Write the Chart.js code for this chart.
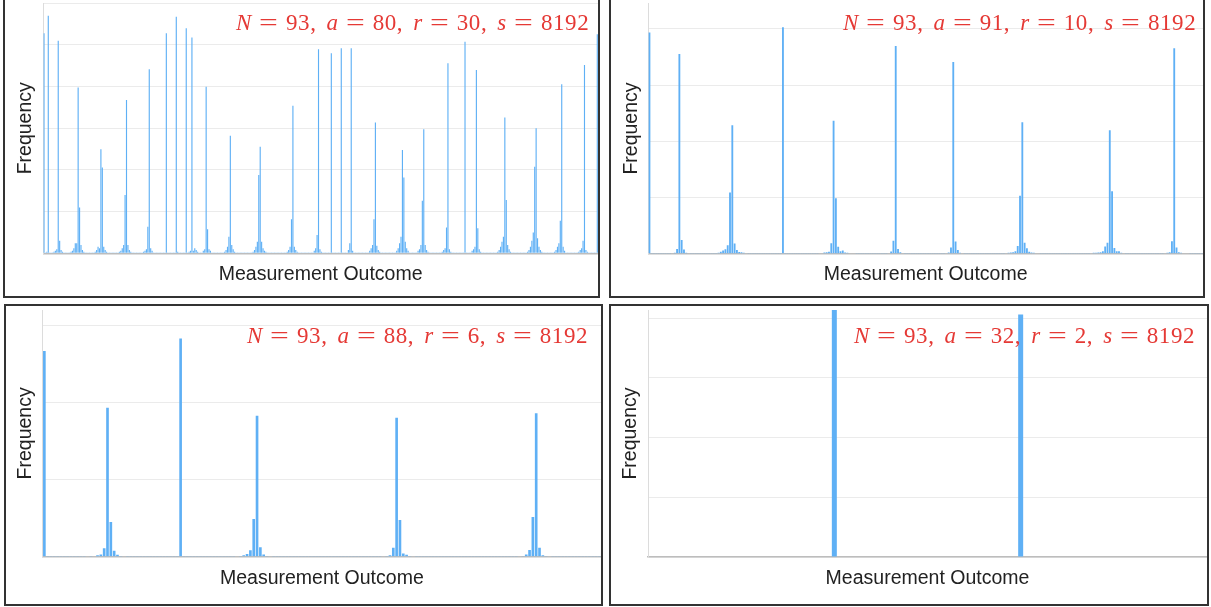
<!DOCTYPE html>
<html><head><meta charset="utf-8">
<script src="https://cdn.jsdelivr.net/npm/chart.js@4"></script>
<style>
html,body{margin:0;padding:0;background:#fff;width:1211px;height:607px;overflow:hidden}
body{position:relative}
.panel{position:absolute;box-sizing:border-box;border:2px solid #333;background:#fff}
.panel canvas{position:absolute;left:0;top:0}
.lbl{position:absolute;white-space:nowrap;color:#e53935;font-family:"Liberation Serif",serif;font-size:23px;line-height:23px;letter-spacing:0.6px}
.lbl i{font-style:italic}
.eq{display:inline-block;width:13px;margin:0 10.5px;transform:scaleX(1.45);text-align:center}
.sep{display:inline-block;width:10px}
</style></head>
<body>
<div class="panel" style="left:3px;top:-3px;width:597px;height:301px"><canvas id="c0" width="593" height="297"></canvas><div class="lbl" id="l0" style="left:231px;top:12px"></div></div>
<div class="panel" style="left:609px;top:-3px;width:596px;height:301px"><canvas id="c1" width="592" height="297"></canvas><div class="lbl" id="l1" style="left:232px;top:12px"></div></div>
<div class="panel" style="left:4px;top:304px;width:599px;height:302px"><canvas id="c2" width="595" height="298"></canvas><div class="lbl" id="l2" style="left:241px;top:18px"></div></div>
<div class="panel" style="left:609px;top:304px;width:600px;height:302px"><canvas id="c3" width="596" height="298"></canvas><div class="lbl" id="l3" style="left:243px;top:18px"></div></div>
<script>
const tlCounts = [
264,1,2,285,1,1,1,2,3,5,
255,15,4,2,1,1,1,1,1,2,
3,6,12,12,199,55,10,4,2,1,
1,1,1,1,1,1,2,4,8,6,
125,103,8,4,2,1,1,1,1,1,
1,1,1,2,3,6,10,70,184,10,
4,2,1,1,1,1,1,1,1,1,
2,3,5,32,221,6,3,1,1,1,
1,1,1,1,1,1,264,1,1,1,
1,1,1,284,2,1,1,1,1,1,
270,1,2,3,259,3,6,4,2,1,
1,1,3,5,200,29,5,3,1,1,
1,1,1,1,1,1,1,2,4,8,
20,141,10,5,2,1,1,1,1,1,
1,1,1,1,1,1,1,2,4,8,
14,94,128,14,6,3,2,1,1,1,
1,1,1,1,1,1,1,1,1,1,
1,2,4,8,41,177,8,4,2,1,
1,1,1,1,1,1,1,1,1,1,
3,6,22,245,5,2,1,1,1,1,
1,1,240,1,1,1,1,1,1,246,
1,1,1,1,4,12,246,3,1,1,
1,1,1,1,1,1,1,1,1,3,
6,10,41,157,9,4,2,1,1,1,
1,1,1,1,1,1,1,1,3,6,
12,20,124,91,14,6,3,1,1,1,
1,1,1,3,5,10,63,149,10,4,
2,1,1,1,1,1,1,1,1,1,
2,4,6,31,228,5,2,1,1,1,
1,1,1,1,1,1,254,1,1,1,
1,3,5,8,220,30,5,2,1,1,
1,1,1,1,1,1,1,1,1,2,
4,8,14,20,163,64,10,5,2,1,
1,1,1,1,1,1,1,1,1,1,
2,4,8,15,25,104,150,18,8,4,
2,1,1,1,1,1,1,1,1,2,
4,8,12,39,203,8,3,1,1,1,
1,1,1,1,1,1,2,4,6,15,
226,4,2,1,1,1,1,1,1,263
];
const trCounts = [
787,1,1,1,1,1,1,1,1,1,
2,3,17,711,49,15,3,2,1,1,
1,1,1,1,1,1,1,1,1,1,
3,7,11,16,30,218,457,36,13,6,
5,3,2,1,1,1,1,1,1,1,
1,1,1,1,1,1,1,1,806,1,
1,1,1,1,1,1,1,1,1,1,
1,1,1,1,2,2,4,5,7,37,
473,197,25,9,11,4,3,2,2,2,
1,1,1,1,1,1,1,1,1,1,
1,1,1,1,2,8,46,739,17,5,
2,1,1,1,1,1,1,1,1,1,
1,1,1,1,1,1,1,1,1,2,
4,22,682,43,13,3,2,1,1,1,
1,1,1,1,1,1,1,1,1,1,
1,1,1,1,1,2,3,4,5,9,
27,206,468,39,19,7,4,3,2,2,
1,1,1,1,1,1,1,1,1,1,
1,1,1,1,1,1,1,1,1,1,
1,1,2,3,3,4,5,9,26,39,
439,222,20,9,9,3,2,1,1,1,
1,1,1,1,1,1,1,1,1,1,
1,1,1,1,2,3,5,44,731,22,
5,3,2,2,2,1,1,1,1,1,
1
];
const blCounts = [
1332,1,1,1,1,1,1,1,1,1,
1,5,2,3,5,3,9,15,54,965,
225,39,13,5,3,2,1,1,1,1,
1,1,1,1,1,1,1,1,1,1,
1,1414,1,1,1,1,1,1,1,1,
1,1,1,1,1,1,2,5,3,5,
9,17,41,244,913,61,15,5,3,2,
1,1,1,1,1,1,1,1,1,1,
1,1,1,1,1,1,1,1,1,1,
1,1,1,1,1,1,1,1,1,1,
2,2,3,5,9,58,900,238,21,13,
5,3,2,1,1,1,1,1,1,1,
1,1,1,1,1,1,1,1,1,1,
1,1,1,1,1,1,1,1,1,1,
1,1,2,3,5,15,43,257,929,58,
9,5,3,2,1,1,1,1,1,1,
1,1,1,1,1,1,1,1
];
const brCounts = [4134, 4058];

// Panel parameters: N, a, r, shots
const tlParams = ['93', '80', '30', '8192'];
const trParams = ['93', '91', '10', '8192'];
const blParams = ['93', '88', '6', '8192'];
const brParams = ['93', '32', '2', '8192'];

// y axis (unlabelled) grid ticks and extent per panel
const tlYTicks = [0, 50, 100, 150, 200, 250, 300];
const trYTicks = [0, 200, 400, 600, 800];
const blYTicks = [0, 500, 1000, 1500];
const brYTicks = [0, 1000, 2000, 3000, 4000];
const yMaxes = [300, 891, 1598, 4134];

const BAR = '#5fb0f5';
const GRID = '#ebebeb';

const geoms = [
  {yAxisW: 38.3, padTop: 4.3, xAxisH: 42.7, yTitlePad: 8.8, xTitlePad: 9.8, xMin: -0.5, xMax: tlCounts.length - 0.5},
  {yAxisW: 37.3, padTop: 4.3, xAxisH: 42.3, yTitlePad: 8.8, xTitlePad: 9.8, xMin: -0.5, xMax: trCounts.length - 0.5},
  {yAxisW: 36.7, padTop: 4.0, xAxisH: 47.3, yTitlePad: 8.1, xTitlePad: 13.6, xMin: -0.5, xMax: blCounts.length - 0.5},
  {yAxisW: 37.0, padTop: 4.0, xAxisH: 47.0, yTitlePad: 7.8, xTitlePad: 13.6, xMin: -1, xMax: brCounts.length}
];

function labelHTML(p) {
  return '<i>N</i><span class="eq">=</span>' + p[0] + ',<span class="sep"></span>' +
         '<i>a</i><span class="eq">=</span>' + p[1] + ',<span class="sep"></span>' +
         '<i>r</i><span class="eq">=</span>' + p[2] + ',<span class="sep"></span>' +
         '<i>s</i><span class="eq">=</span>' + p[3];
}

function buildChart(idx, counts, params, yTicks) {
  const g = geoms[idx];
  const yMax = yMaxes[idx];
  document.getElementById('l' + idx).innerHTML = labelHTML(params);
  return new Chart(document.getElementById('c' + idx), {
    type: 'bar',
    data: {
      datasets: [{
        data: counts.map((v, i) => ({x: i, y: v})),
        backgroundColor: BAR,
        borderWidth: 0,
        categoryPercentage: 1,
        barPercentage: 0.8,
        maxBarThickness: 5
      }]
    },
    options: {
      responsive: false,
      animation: false,
      devicePixelRatio: 1,
      layout: {padding: {top: g.padTop, right: 0, bottom: 0, left: 0}},
      plugins: {legend: {display: false}, tooltip: {enabled: false}, title: {display: false}},
      scales: {
        x: {
          type: 'linear', min: g.xMin, max: g.xMax, offset: false,
          grid: {display: false},
          ticks: {display: false},
          border: {display: true, color: '#bdbdbd', width: 1.5},
          title: {display: true, text: 'Measurement Outcome', color: '#222',
                  font: {family: 'Liberation Sans', size: 19.5}, padding: {top: 0, bottom: g.xTitlePad}},
          afterFit: s => { s.height = g.xAxisH; }
        },
        y: {
          min: 0, max: yMax,
          ticks: {display: false},
          afterBuildTicks: s => { s.ticks = yTicks.map(v => ({value: v})); },
          grid: {drawTicks: false, color: GRID, lineWidth: 1},
          border: {display: true, color: '#dcdcdc', width: 1},
          title: {display: true, text: 'Frequency', color: '#222',
                  font: {family: 'Liberation Sans', size: 19.5}, padding: {top: g.yTitlePad, bottom: 0}},
          afterFit: s => { s.width = g.yAxisW; }
        }
      }
    }
  });
}

buildChart(0, tlCounts, tlParams, tlYTicks);
buildChart(1, trCounts, trParams, trYTicks);
buildChart(2, blCounts, blParams, blYTicks);
buildChart(3, brCounts, brParams, brYTicks);
</script>
</body></html>
